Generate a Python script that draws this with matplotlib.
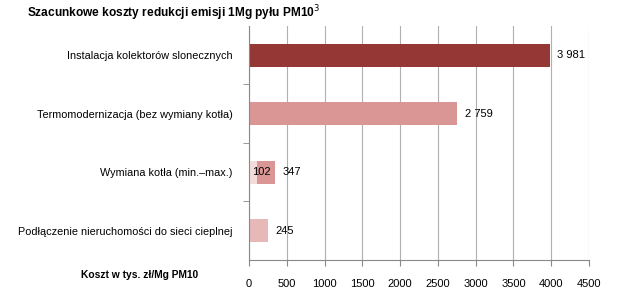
import matplotlib
matplotlib.use("Agg")
import matplotlib.pyplot as plt

plt.rcParams['font.family'] = ['Liberation Sans Narrow', 'Liberation Sans', 'DejaVu Sans']

# data, top to bottom
categories = ["Instalacja kolektorów slonecznych",
              "Termomodernizacja (bez wymiany kotła)",
              "Wymiana kotła (min.–max.)",
              "Podłączenie nieruchomości do sieci cieplnej"]
values = [3981, 2759, 347, 245]
min_values = [0, 0, 102, 0]          # only the boiler row has a min-max range
value_labels = ["3 981", "2 759", "347", "245"]
bar_colors = ["#953735", "#d99694", "#d99694", "#e6b9b8"]
min_color = "#f2dcdb"
xticks = [0, 500, 1000, 1500, 2000, 2500, 3000, 3500, 4000, 4500]

fig = plt.figure(figsize=(6.18, 2.97), dpi=100)
ax = fig.add_axes([0.403, 0.1246, 0.550, 0.788])

ypos = list(range(len(categories)))
h = 0.40
for y, v, vmin, c in zip(ypos, values, min_values, bar_colors):
    if vmin > 0:
        ax.barh(y, vmin, height=h, color=min_color, zorder=2)
        ax.barh(y, v - vmin, left=vmin, height=h, color=c, zorder=2)
    else:
        ax.barh(y, v, height=h, color=c, zorder=2)

for y, v, vmin, lab in zip(ypos, values, min_values, value_labels):
    ax.text(v + 100, y, lab, va="center", ha="left", fontsize=8)
    if vmin > 0:
        ax.text(vmin - 60, y, str(vmin), va="center", ha="left", fontsize=8, zorder=3)

ax.set_ylim(len(categories) - 0.5, -0.5)
ax.set_xlim(0, 4500)
ax.set_xticks(xticks)
ax.set_xticklabels([str(t) for t in xticks], fontsize=8)
ax.set_yticks(ypos)
ax.set_yticklabels(categories, fontsize=7.8)
ax.set_yticks([0.5, 1.5, 2.5], minor=True)
ax.tick_params(axis="y", which="major", length=0, pad=12)
ax.tick_params(axis="y", which="minor", length=4, color="#888888")
ax.tick_params(axis="x", length=4, color="#888888", pad=10)

ax.grid(axis="x", color="#b0b0b0", linewidth=0.8, zorder=0)
for s in ["top", "right"]:
    ax.spines[s].set_visible(False)
ax.spines["left"].set_color("#888888")
ax.spines["bottom"].set_color("#888888")

fig.text(0.044, 0.955, "Szacunkowe koszty redukcji emisji 1Mg pyłu PM10$^3$",
         fontsize=8.6, fontweight="bold", ha="left", va="center",
         family=["Liberation Sans", "DejaVu Sans"])
fig.text(0.32, 0.074, "Koszt w tys. zł/Mg PM10", fontsize=7.4, fontweight="bold",
         ha="right", va="center", family=["Liberation Sans", "DejaVu Sans"])

fig.savefig("out.png", dpi=100)
